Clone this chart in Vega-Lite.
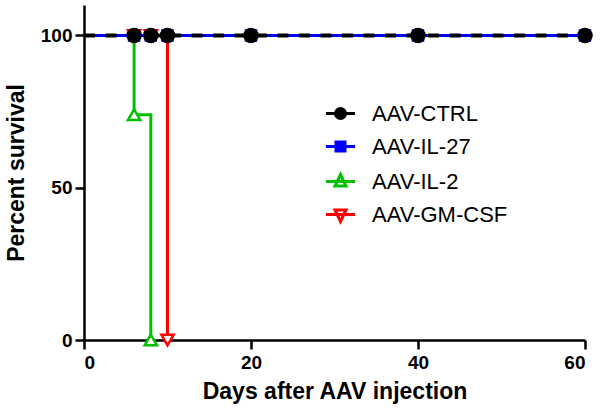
{
  "$schema": "https://vega.github.io/schema/vega-lite/v6.json",
  "width": 501,
  "height": 335,
  "autosize": {"type": "none"},
  "padding": {"left": 84, "top": 5, "right": 15, "bottom": 75},
  "background": "white",
  "config": {
    "view": {"stroke": null},
    "font": "Liberation Sans",
    "axis": {
      "grid": false,
      "domainColor": "black",
      "domainWidth": 2.5,
      "tickColor": "black",
      "tickWidth": 2.5,
      "tickSize": 9,
      "labelFont": "Liberation Sans",
      "labelFontWeight": "bold",
      "labelFontSize": 19,
      "labelColor": "black",
      "titleFont": "Liberation Sans",
      "titleFontWeight": "bold",
      "titleFontSize": 23,
      "titleColor": "black"
    },
    "legend": {
      "title": null,
      "padding": 0,
      "symbolSize": 400,
      "symbolStrokeWidth": 3,
      "symbolOpacity": 1,
      "labelFont": "Liberation Sans",
      "labelFontSize": 22,
      "labelColor": "black",
      "labelOffset": 20,
      "rowPadding": 10
    }
  },
  "datasets": {
    "curves": [
      {"group": "AAV-CTRL", "day": 0, "pct": 100},
      {"group": "AAV-CTRL", "day": 60, "pct": 100},
      {"group": "AAV-IL-27", "day": 0, "pct": 100},
      {"group": "AAV-IL-27", "day": 60, "pct": 100},
      {"group": "AAV-IL-2", "day": 0, "pct": 100},
      {"group": "AAV-IL-2", "day": 6, "pct": 74},
      {"group": "AAV-IL-2", "day": 8, "pct": 0},
      {"group": "AAV-GM-CSF", "day": 0, "pct": 100},
      {"group": "AAV-GM-CSF", "day": 10, "pct": 0}
    ],
    "points": [
      {"group": "AAV-IL-27", "day": 6, "pct": 100},
      {"group": "AAV-IL-27", "day": 8, "pct": 100},
      {"group": "AAV-IL-27", "day": 10, "pct": 100},
      {"group": "AAV-IL-27", "day": 20, "pct": 100},
      {"group": "AAV-IL-27", "day": 40, "pct": 100},
      {"group": "AAV-IL-27", "day": 60, "pct": 100},
      {"group": "AAV-IL-2", "day": 6, "pct": 74},
      {"group": "AAV-IL-2", "day": 8, "pct": 0},
      {"group": "AAV-GM-CSF", "day": 6, "pct": 100},
      {"group": "AAV-GM-CSF", "day": 8, "pct": 100},
      {"group": "AAV-GM-CSF", "day": 10, "pct": 0},
      {"group": "AAV-CTRL", "day": 6, "pct": 100},
      {"group": "AAV-CTRL", "day": 8, "pct": 100},
      {"group": "AAV-CTRL", "day": 10, "pct": 100},
      {"group": "AAV-CTRL", "day": 20, "pct": 100},
      {"group": "AAV-CTRL", "day": 40, "pct": 100},
      {"group": "AAV-CTRL", "day": 60, "pct": 100}
    ]
  },
  "encoding": {
    "x": {
      "field": "day",
      "type": "quantitative",
      "scale": {"domain": [0, 60], "nice": false},
      "axis": {"values": [0, 20, 40, 60], "title": "Days after AAV injection", "labelPadding": 4, "titlePadding": 8}
    },
    "y": {
      "field": "pct",
      "type": "quantitative",
      "scale": {"domain": [0, 110], "nice": false},
      "axis": {"values": [0, 50, 100], "title": "Percent survival", "labelPadding": 3, "titlePadding": 12}
    }
  },
  "layer": [
    {
      "data": {"name": "curves"},
      "transform": [{"filter": "datum.group === 'AAV-IL-2'"}],
      "mark": {"type": "line", "interpolate": "step-after", "strokeWidth": 3, "color": "#00c000"},
      "encoding": {}
    },
    {
      "data": {"name": "curves"},
      "transform": [{"filter": "datum.group === 'AAV-GM-CSF'"}],
      "mark": {"type": "line", "interpolate": "step-after", "strokeWidth": 3, "color": "#ff0000"},
      "encoding": {}
    },
    {
      "data": {"name": "curves"},
      "transform": [{"filter": "datum.group === 'AAV-IL-27'"}],
      "mark": {"type": "line", "interpolate": "step-after", "strokeWidth": 3, "color": "#0000ff"},
      "encoding": {}
    },
    {
      "data": {"name": "curves"},
      "transform": [{"filter": "datum.group === 'AAV-CTRL'"}],
      "mark": {"type": "line", "interpolate": "step-after", "strokeWidth": 4, "strokeDash": [11, 10.5], "color": "#000000"},
      "encoding": {}
    },
    {
      "data": {"name": "points"},
      "mark": {"type": "point", "strokeWidth": 2.5, "opacity": 1},
      "encoding": {
        "stroke": {"condition": [
          {"test": "datum.group === 'AAV-IL-27'", "value": "#0000ff"},
          {"test": "datum.group === 'AAV-IL-2'", "value": "#00c000"},
          {"test": "datum.group === 'AAV-GM-CSF'", "value": "#ff0000"}
        ], "value": "#000000"},
        "fill": {"condition": [
          {"test": "datum.group === 'AAV-IL-27'", "value": "#0000ff"},
          {"test": "datum.group === 'AAV-IL-2' || datum.group === 'AAV-GM-CSF'", "value": "#ffffff"}
        ], "value": "#000000"},
        "shape": {"condition": [
          {"test": "datum.group === 'AAV-IL-27'", "value": "square"},
          {"test": "datum.group === 'AAV-IL-2'", "value": "triangle-up"},
          {"test": "datum.group === 'AAV-GM-CSF'", "value": "triangle-down"}
        ], "value": "circle"},
        "size": {"condition": [
          {"test": "datum.group === 'AAV-IL-27'", "value": 100},
          {"test": "datum.group === 'AAV-IL-2' || datum.group === 'AAV-GM-CSF'", "value": 150}
        ], "value": 170}
      }
    },
    {
      "data": {"name": "points"},
      "mark": {"type": "point", "opacity": 0},
      "encoding": {
        "stroke": {"field": "group", "type": "nominal",
          "scale": {"domain": ["AAV-CTRL", "AAV-IL-27", "AAV-IL-2", "AAV-GM-CSF"], "range": ["#000000", "#0000ff", "#00c000", "#ff0000"]},
          "legend": {"orient": "none", "legendX": 245, "legendY": 97}},
        "fill": {"field": "group", "type": "nominal",
          "scale": {"domain": ["AAV-CTRL", "AAV-IL-27", "AAV-IL-2", "AAV-GM-CSF"], "range": ["#000000", "#0000ff", "#ffffff", "#ffffff"]},
          "legend": {"orient": "none", "legendX": 245, "legendY": 97}},
        "shape": {"field": "group", "type": "nominal",
          "scale": {"domain": ["AAV-CTRL", "AAV-IL-27", "AAV-IL-2", "AAV-GM-CSF"], "range": [
            "M-1.45,0H1.45M0.5,0A0.5,0.5,0,1,1,-0.5,0A0.5,0.5,0,1,1,0.5,0Z",
            "M-1.45,0H1.45M-0.45,-0.45H0.45V0.45H-0.45Z",
            "M-1.45,0H1.45M0,-0.7L0.55,0.45H-0.55Z",
            "M-1.45,0H1.45M0,0.7L0.55,-0.45H-0.55Z"
          ]},
          "legend": {"orient": "none", "legendX": 245, "legendY": 97}}
      }
    }
  ]
}
